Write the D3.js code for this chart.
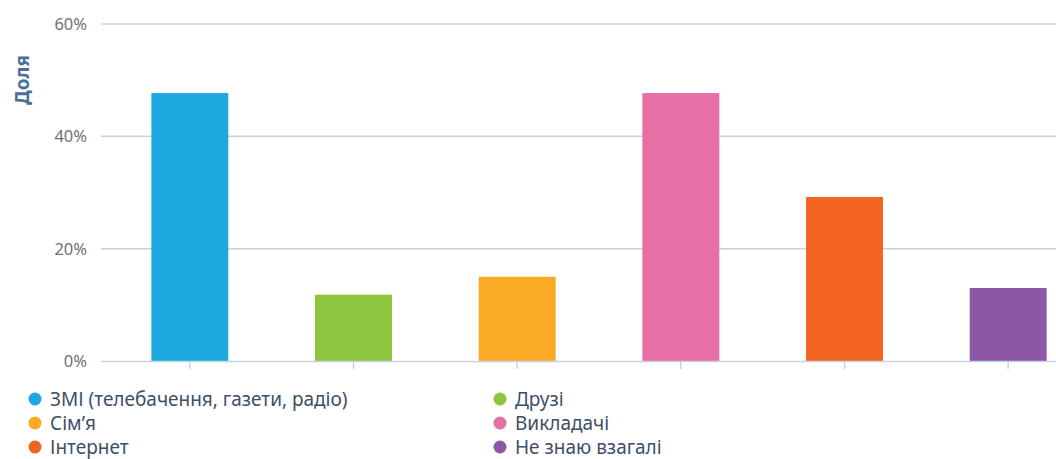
<!DOCTYPE html>
<html>
<head>
<meta charset="utf-8">
<script src="https://cdn.jsdelivr.net/npm/d3@7"></script>
<style>
  body { margin: 0; background: #fff; overflow: hidden; }
  text { font-family: "Noto Sans", "Open Sans", sans-serif; }
</style>
</head>
<body>
<div id="chart"></div>
<script>
// Data
const categories = ['ЗМІ (телебачення, газети, радіо)', 'Друзі', 'Сім’я', 'Викладачі', 'Інтернет', 'Не знаю взагалі']
const values = [47.7, 11.8, 15.0, 47.7, 29.2, 13.0]
const colors = ['#1ea8e0', '#8cc63f', '#fbaa26', '#e86ea6', '#f0641f', '#8e57a3']
const yTicks = [0, 20, 40, 60]

const width = 1056
const height = 459
const plot = { left: 101, top: 24, bottom: 361, right: 1090 }

const svg = d3.select('#chart')
  .append('svg')
  .attr('width', width)
  .attr('height', height)

const x = d3.scaleBand()
  .domain(categories)
  .range([108, plot.right])
  .paddingInner(0.53)
  .paddingOuter(0.265)

const y = d3.scaleLinear()
  .domain([0, 60])
  .range([plot.bottom, plot.top])

// Grid lines
svg.append('g')
  .selectAll('line')
  .data(yTicks.filter(d => d > 0))
  .enter().append('line')
  .attr('x1', plot.left)
  .attr('x2', plot.right)
  .attr('y1', d => y(d))
  .attr('y2', d => y(d))
  .attr('stroke', '#d0d0d0')
  .attr('stroke-width', 1.5)

// Y tick labels
svg.append('g')
  .selectAll('text')
  .data(yTicks)
  .enter().append('text')
  .attr('x', 87)
  .attr('y', d => y(d) + 6)
  .attr('text-anchor', 'end')
  .attr('fill', '#707070')
  .style('font-size', '16.5px')
  .text(d => `${d}%`)

// Y axis title
svg.append('text')
  .attr('transform', `translate(29, 80) rotate(-90)`)
  .attr('text-anchor', 'middle')
  .attr('fill', '#4d6d99')
  .style('font-size', '19px')
  .style('font-weight', 'bold')
  .text('Доля')

// Bars
svg.append('g')
  .selectAll('rect')
  .data(values)
  .enter().append('rect')
  .attr('x', (d, i) => x(categories[i]))
  .attr('width', x.bandwidth())
  .attr('y', d => y(d))
  .attr('height', d => y(0) - y(d))
  .attr('fill', (d, i) => colors[i])

// X axis line and ticks
svg.append('line')
  .attr('x1', plot.left)
  .attr('x2', plot.right)
  .attr('y1', plot.bottom + 0.5)
  .attr('y2', plot.bottom + 0.5)
  .attr('stroke', '#c5d3e6')
  .attr('stroke-width', 1.5)

svg.append('g')
  .selectAll('line')
  .data(categories)
  .enter().append('line')
  .attr('x1', d => x(d) + x.bandwidth() / 2)
  .attr('x2', d => x(d) + x.bandwidth() / 2)
  .attr('y1', plot.bottom)
  .attr('y2', plot.bottom + 8)
  .attr('stroke', '#c5d3e6')
  .attr('stroke-width', 1.5)

// Legend
const legend = svg.append('g')
  .selectAll('g')
  .data(categories)
  .enter().append('g')
  .attr('transform', (d, i) => `translate(${i % 2 ? 500 : 35}, ${399 + Math.floor(i / 2) * 24})`)

legend.append('circle')
  .attr('r', 6.5)
  .attr('fill', (d, i) => colors[i])

legend.append('text')
  .attr('x', 15)
  .attr('y', 7)
  .attr('fill', '#3d4f66')
  .style('font-size', '19px')
  .text(d => d)
</script>
</body>
</html>
